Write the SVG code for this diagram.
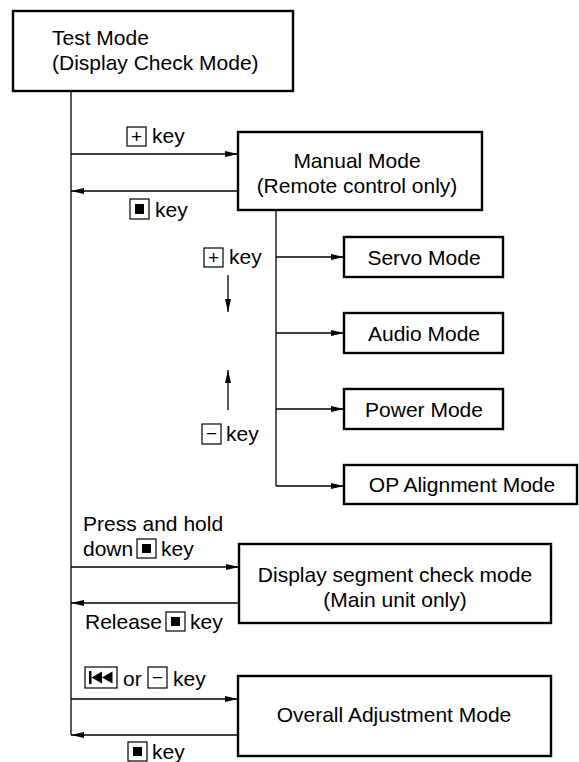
<svg xmlns="http://www.w3.org/2000/svg" width="579" height="762" viewBox="0 0 579 762">
<defs>
<marker id="ah" markerWidth="14" markerHeight="8" refX="13" refY="4" orient="auto" markerUnits="userSpaceOnUse">
<path d="M0,1 L13,4 L0,7 Z" fill="#000"/>
</marker>
<style>
.box{fill:#fff;stroke:#000;stroke-width:2.4}
.k{fill:#fff;stroke:#000;stroke-width:1.2}
.t{font-family:"Liberation Sans",Arial,sans-serif;font-size:21px;fill:#000}
.m{text-anchor:middle}
.ln{stroke:#000;stroke-width:1.3;fill:none}
.ar{stroke:#000;stroke-width:1.3;fill:none;marker-end:url(#ah)}
.kt{font-family:"Liberation Sans",Arial,sans-serif;font-size:19px;fill:#000;text-anchor:middle}
</style>
</defs>
<rect width="579" height="762" fill="#fff"/>

<g id="connectors">
<line class="ln" x1="71" y1="91" x2="71" y2="735"/>
<line class="ar" x1="71" y1="154" x2="238" y2="154"/>
<line class="ar" x1="238" y1="191" x2="71" y2="191"/>
<line class="ln" x1="276" y1="210" x2="276" y2="486"/>
<line class="ar" x1="276" y1="257" x2="344" y2="257"/>
<line class="ar" x1="276" y1="333" x2="344" y2="333"/>
<line class="ar" x1="276" y1="409" x2="344" y2="409"/>
<line class="ar" x1="276" y1="486" x2="344" y2="486"/>
<line class="ar" x1="228" y1="275" x2="228" y2="312"/>
<line class="ar" x1="228" y1="410" x2="228" y2="370"/>
<line class="ar" x1="71" y1="567" x2="239" y2="567"/>
<line class="ar" x1="239" y1="603" x2="71" y2="603"/>
<line class="ar" x1="71" y1="699" x2="238" y2="699"/>
<line class="ar" x1="238" y1="735" x2="71" y2="735"/>
</g>

<g id="labels">
<g id="lbl-plus-top">
<rect class="k" x="127" y="127" width="19" height="19"/>
<text class="kt" x="136.5" y="143">+</text>
<text class="t" x="152" y="143">key</text>
</g>
<g id="lbl-stop-top">
<rect class="k" x="130" y="199" width="19" height="20"/>
<rect x="135" y="204" width="9" height="10" fill="#000"/>
<text class="t" x="155" y="217">key</text>
</g>
<g id="lbl-plus-left">
<rect class="k" x="204" y="248" width="19" height="19"/>
<text class="kt" x="213.5" y="264">+</text>
<text class="t" x="229" y="264">key</text>
</g>
<g id="lbl-minus-left">
<rect class="k" x="202" y="424" width="19" height="20"/>
<text class="kt" x="211.5" y="440">−</text>
<text class="t" x="226" y="441">key</text>
</g>
<g id="lbl-press">
<text class="t" x="83" y="531">Press and hold</text>
<text class="t" x="83" y="556">down</text>
<rect class="k" x="137" y="539" width="19" height="19"/>
<rect x="142" y="544" width="9" height="9" fill="#000"/>
<text class="t" x="161" y="556">key</text>
</g>
<g id="lbl-release">
<text class="t" x="85" y="629">Release</text>
<rect class="k" x="166" y="612" width="19" height="19"/>
<rect x="171" y="617" width="9" height="9" fill="#000"/>
<text class="t" x="190" y="629">key</text>
</g>
<g id="lbl-prev">
<rect class="k" x="85" y="667" width="32" height="21"/>
<rect x="89" y="671" width="2.5" height="13" fill="#000"/>
<polygon points="91.5,677.5 102,671.5 102,683.5" fill="#000"/>
<polygon points="102,677.5 112.5,671.5 112.5,683.5" fill="#000"/>
<text class="t" x="123" y="686">or</text>
<rect class="k" x="148" y="667" width="19" height="21"/>
<text class="kt" x="157.5" y="684">−</text>
<text class="t" x="173" y="686">key</text>
</g>
<g id="lbl-stop-bottom">
<rect class="k" x="128" y="742" width="19" height="19"/>
<rect x="133" y="747" width="9" height="9" fill="#000"/>
<text class="t" x="152" y="759">key</text>
</g>
</g>

<g id="test-mode">
<rect class="box" x="13" y="11" width="280" height="80"/>
<text class="t" x="52" y="45">Test Mode</text>
<text class="t" x="52" y="70">(Display Check Mode)</text>
</g>
<g id="manual-mode">
<rect class="box" x="238" y="132" width="244" height="78"/>
<text class="t m" x="357" y="168">Manual Mode</text>
<text class="t m" x="357" y="193">(Remote control only)</text>
</g>
<g id="servo-mode">
<rect class="box" x="344" y="237" width="159" height="40"/>
<text class="t m" x="424" y="265">Servo Mode</text>
</g>
<g id="audio-mode">
<rect class="box" x="344" y="313" width="159" height="40"/>
<text class="t m" x="424" y="341">Audio Mode</text>
</g>
<g id="power-mode">
<rect class="box" x="344" y="389" width="159" height="40"/>
<text class="t m" x="424" y="417">Power Mode</text>
</g>
<g id="op-mode">
<rect class="box" x="344" y="465" width="233" height="39"/>
<text class="t m" x="462" y="492">OP Alignment Mode</text>
</g>
<g id="display-segment-mode">
<rect class="box" x="239" y="544" width="312" height="79"/>
<text class="t m" x="395" y="582">Display segment check mode</text>
<text class="t m" x="395" y="607">(Main unit only)</text>
</g>
<g id="overall-adjustment-mode">
<rect class="box" x="238" y="676" width="313" height="80"/>
<text class="t m" x="394" y="722">Overall Adjustment Mode</text>
</g>
</svg>
